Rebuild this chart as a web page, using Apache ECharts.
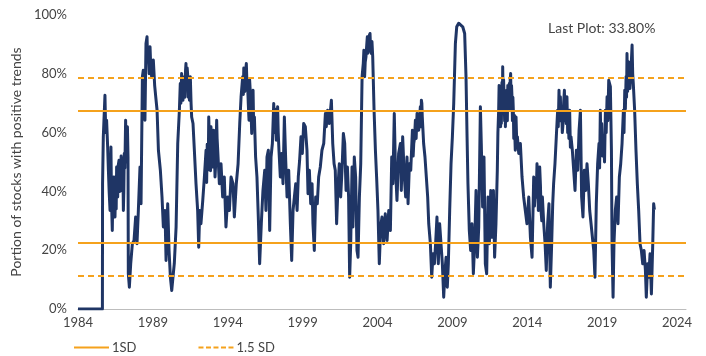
<!DOCTYPE html>
<html>
<head>
<meta charset="utf-8">
<script src="https://cdn.jsdelivr.net/npm/echarts@6/dist/echarts.min.js"></script>
<style>html,body{margin:0;padding:0;background:#fff;}#c{width:706px;height:356px;}</style>
</head>
<body>
<div id="c"></div>
<script>
// Portion of stocks with positive trends, [decimal year, %]
const p1984_1989 = [[1984.00,0],[1985.63,0],[1985.64,42.6],[1985.69,58.5],[1985.80,72.7],[1985.85,60],[1985.91,64.2],[1985.98,55.1],[1986.03,47.2],[1986.08,40],[1986.14,33.5],[1986.17,42],[1986.20,55.1],[1986.24,36],[1986.29,26.7],[1986.33,40],[1986.38,44.9],[1986.42,35],[1986.47,31.3],[1986.52,45],[1986.55,34],[1986.58,48.3],[1986.61,46],[1986.65,38.1],[1986.69,49],[1986.74,50.6],[1986.79,40],[1986.85,42.6],[1986.88,52],[1986.92,48.3],[1986.97,40],[1987.00,47],[1987.03,33.5],[1987.06,40],[1987.09,52.9],[1987.13,48],[1987.18,64.2],[1987.22,50],[1987.27,56.3],[1987.30,62],[1987.34,51.7],[1987.36,12.0],[1987.43,7.4],[1987.52,15.4],[1987.63,22.2],[1987.74,23.3],[1987.85,31.3],[1987.94,22.2],[1988.03,33.5],[1988.14,48.3],[1988.21,35.8],[1988.30,79.0],[1988.36,81.2],[1988.43,73.3],[1988.47,64.2],[1988.54,90.3],[1988.61,92.6],[1988.65,84],[1988.70,86.9],[1988.75,80],[1988.81,89.2],[1988.86,82],[1988.92,79.0],[1989.03,84.7],[1989.12,76.0]];
const p1989_1994 = [[1989.19,72.2],[1989.28,67.6],[1989.37,54.0],[1989.50,47.2],[1989.61,38.1],[1989.70,27.9],[1989.81,33.5],[1989.88,16.5],[1989.99,35.8],[1990.08,19.9],[1990.17,10.8],[1990.26,6.3],[1990.34,10.8],[1990.43,15.4],[1990.55,27.9],[1990.66,56.3],[1990.77,67.6],[1990.83,76.7],[1990.87,70],[1990.92,80.1],[1990.96,73],[1991.01,71.0],[1991.05,78],[1991.10,79.0],[1991.14,72],[1991.18,81],[1991.21,83.5],[1991.25,75],[1991.29,82],[1991.32,80.1],[1991.36,72],[1991.40,78],[1991.44,71.0],[1991.47,76],[1991.50,79.0],[1991.55,70],[1991.59,65.3],[1991.68,63.1],[1991.77,54.0],[1991.88,42.6],[1991.99,33.5],[1992.06,21.0],[1992.13,33.5],[1992.21,29.0],[1992.33,36.9],[1992.44,44.9],[1992.55,54.0],[1992.59,43],[1992.63,56],[1992.66,47.2],[1992.70,50],[1992.73,65.3],[1992.77,58],[1992.82,54.0],[1992.85,47],[1992.88,62.0],[1992.92,57],[1992.97,48.3],[1993.01,52],[1993.06,60.8],[1993.10,55],[1993.15,44.9],[1993.20,50],[1993.26,64.2],[1993.29,58],[1993.33,54.0],[1993.44,42.6],[1993.55,49.4],[1993.66,38.1],[1993.77,44.9],[1993.88,27.9],[1994.00,38.1],[1994.11,33.5],[1994.22,44.9]];
const p1994_1999 = [[1994.35,42.6],[1994.44,31.3],[1994.57,42.6],[1994.69,49.4],[1994.80,63.1],[1994.89,72.2],[1995.00,79.0],[1995.04,73],[1995.07,82],[1995.11,81.2],[1995.14,74],[1995.18,80],[1995.24,83.5],[1995.28,77],[1995.33,75.6],[1995.37,70],[1995.42,64.2],[1995.46,78],[1995.51,73.3],[1995.55,68],[1995.60,59.7],[1995.64,70],[1995.69,74.4],[1995.73,62],[1995.78,65.3],[1995.86,51.7],[1995.95,44.9],[1996.04,31.3],[1996.13,15.4],[1996.24,29.0],[1996.35,40.3],[1996.47,47.2],[1996.55,33.5],[1996.62,51.7],[1996.71,54.0],[1996.80,26.7],[1996.89,51.7],[1996.98,56.3],[1997.07,69.9],[1997.11,60],[1997.14,68],[1997.18,65.3],[1997.21,62],[1997.24,57.4],[1997.28,63],[1997.33,68.8],[1997.37,60],[1997.42,54.0],[1997.51,44.9],[1997.60,52.9],[1997.69,42.6],[1997.78,65.3],[1997.87,50.6],[1997.96,38.1],[1998.07,47.2],[1998.18,29.0],[1998.27,16.5],[1998.36,33.5],[1998.45,38.1],[1998.54,42.6],[1998.63,33.5],[1998.71,44.9],[1998.80,50.6],[1998.89,58.6],[1998.98,52.9],[1999.07,63.1],[1999.18,62.0],[1999.29,54.0]];
const p1999_2004 = [[1999.36,39.2],[1999.45,47.2],[1999.54,35.8],[1999.63,42.6],[1999.69,29.0],[1999.78,19.9],[1999.87,38.1],[1999.98,35.8],[2000.07,44.9],[2000.18,48.3],[2000.29,54.0],[2000.41,56.3],[2000.52,66.5],[2000.58,62.0],[2000.67,67.6],[2000.78,63.1],[2000.92,71.0],[2001.01,56.3],[2001.10,49.4],[2001.18,47.2],[2001.27,29.0],[2001.36,41.5],[2001.45,49.4],[2001.54,38.1],[2001.63,47.2],[2001.72,59.7],[2001.81,56.3],[2001.90,40.3],[2001.99,48.3],[2002.07,38.1],[2002.14,10.8],[2002.21,22.2],[2002.30,48.3],[2002.36,27.9],[2002.45,51.7],[2002.54,44.9],[2002.63,19.9],[2002.70,17.6],[2002.79,38.1],[2002.88,49.4],[2002.97,79.0],[2003.05,83.5],[2003.09,88],[2003.14,79.0],[2003.18,84],[2003.23,85.8],[2003.27,89],[2003.32,92.6],[2003.36,87],[2003.41,90.3],[2003.45,93],[2003.50,93.7],[2003.54,88],[2003.59,86.9],[2003.63,91],[2003.68,85.8],[2003.77,67.6],[2003.86,54.0],[2003.94,44.9],[2004.03,33.5],[2004.12,15.4],[2004.21,27.9],[2004.30,31.3]];
const p2004_2009 = [[2004.41,22.2],[2004.52,32.4],[2004.64,23.3],[2004.75,33.5],[2004.86,26.7],[2004.95,51.7],[2005.03,42.6],[2005.12,66.5],[2005.19,49.4],[2005.30,36.9],[2005.41,52.9],[2005.53,56.3],[2005.59,40.3],[2005.68,58.6],[2005.79,44.9],[2005.88,38.1],[2005.97,51.7],[2006.04,35.8],[2006.13,49.4],[2006.22,47.2],[2006.33,60.8],[2006.38,52],[2006.42,56.3],[2006.47,58],[2006.53,64.2],[2006.58,58],[2006.64,66.5],[2006.70,66],[2006.75,60.8],[2006.80,64],[2006.86,68.8],[2006.90,62],[2006.93,71.0],[2006.96,70],[2006.99,65.3],[2007.08,56.3],[2007.17,51.7],[2007.26,44.9],[2007.35,38.1],[2007.42,29.0],[2007.53,22.2],[2007.62,10.8],[2007.71,18.8],[2007.80,15.4],[2007.88,22.2],[2007.97,31.3],[2008.06,15.4],[2008.15,29.0],[2008.24,22.2],[2008.33,15.4],[2008.42,4.0],[2008.51,13.1],[2008.58,17.6],[2008.66,7.4],[2008.73,15.4],[2008.82,33.5],[2008.91,49.4],[2009.00,58.6],[2009.09,70.0]];
const p2009_2014 = [[2009.20,90.3],[2009.29,96.0],[2009.42,97.2],[2009.55,97.7],[2009.69,96.0],[2009.82,93.7],[2009.91,79.0],[2009.98,58.6],[2010.04,42.6],[2010.13,26.7],[2010.22,19.9],[2010.31,29.0],[2010.40,12.0],[2010.49,22.2],[2010.58,40.3],[2010.67,17.6],[2010.76,27.9],[2010.87,68.8],[2010.93,56.3],[2011.02,34.7],[2011.11,51.7],[2011.20,15.4],[2011.29,12.0],[2011.38,38.1],[2011.47,22.2],[2011.56,40.3],[2011.65,24.4],[2011.74,40.3],[2011.82,17.6],[2011.91,29.0],[2012.00,47.2],[2012.04,60],[2012.09,67.6],[2012.12,76],[2012.15,66],[2012.18,74.4],[2012.22,62],[2012.25,72],[2012.27,63.1],[2012.31,77],[2012.34,68],[2012.36,82.4],[2012.39,70],[2012.42,78],[2012.45,72.2],[2012.49,64],[2012.52,74],[2012.54,62.0],[2012.58,72],[2012.61,66],[2012.63,74.4],[2012.67,64],[2012.70,76],[2012.72,67.6],[2012.76,73],[2012.80,76.7],[2012.83,68],[2012.86,78],[2012.89,80.1],[2012.92,70],[2012.95,76],[2012.98,72.2],[2013.01,64],[2013.04,72],[2013.07,67.6],[2013.10,58],[2013.13,66],[2013.16,60.8],[2013.20,54],[2013.25,65.3],[2013.30,56],[2013.34,58.6],[2013.43,52.9],[2013.54,56.3],[2013.65,44.9],[2013.76,38.1],[2013.87,33.5],[2013.98,29.0],[2014.10,38.1],[2014.21,24.4],[2014.32,17.6]];
const p2014_2019 = [[2014.43,44.9],[2014.48,35],[2014.54,40.3],[2014.60,38],[2014.65,49.4],[2014.70,44],[2014.74,33.5],[2014.79,36],[2014.83,48.3],[2014.88,42],[2014.92,33.5],[2014.97,30],[2015.01,38.1],[2015.10,29.0],[2015.19,22.2],[2015.27,13.1],[2015.36,29.0],[2015.45,35.8],[2015.54,7.4],[2015.63,22.2],[2015.70,35.8],[2015.76,42.6],[2015.85,49.4],[2015.94,58.6],[2016.03,67.6],[2016.07,62],[2016.12,74.4],[2016.16,66],[2016.21,72.2],[2016.25,64],[2016.30,67.6],[2016.34,60],[2016.39,63.1],[2016.43,70],[2016.48,74.4],[2016.52,64],[2016.57,69.9],[2016.61,63],[2016.65,72.2],[2016.70,60],[2016.74,65.3],[2016.78,58],[2016.83,67.6],[2016.88,55],[2016.92,58.6],[2017.01,54.0],[2017.10,47.2],[2017.19,40.3],[2017.28,54.0],[2017.37,47.2],[2017.46,60.8],[2017.55,67.6],[2017.63,38.1],[2017.72,31.3],[2017.81,47.2],[2017.90,40.3],[2017.99,49.4],[2018.08,42.6],[2018.17,33.5],[2018.26,29.0],[2018.35,24.4],[2018.44,19.9],[2018.52,10.8],[2018.61,35.8],[2018.70,49.4],[2018.79,56.3],[2018.83,48],[2018.88,67.6],[2018.92,55],[2018.97,63.1]];
const p2019_2022 = [[2019.03,52],[2019.10,58.6],[2019.16,50],[2019.22,67.6],[2019.27,60],[2019.33,72.2],[2019.38,64],[2019.44,77.8],[2019.55,75.6],[2019.62,54.0],[2019.66,22.2],[2019.73,4.0],[2019.79,22.2],[2019.88,33.5],[2019.97,38.1],[2020.06,29.0],[2020.15,44.9],[2020.24,49.4],[2020.33,56.3],[2020.42,67.6],[2020.46,60],[2020.51,74.4],[2020.55,68],[2020.60,79.0],[2020.63,72],[2020.66,86.9],[2020.70,74],[2020.73,76.7],[2020.77,84],[2020.82,81.2],[2020.86,75],[2020.91,74.4],[2020.95,84],[2021.00,89.8],[2021.04,80],[2021.08,76.7],[2021.17,67.6],[2021.26,54.0],[2021.35,42.6],[2021.44,33.5],[2021.53,22.2],[2021.62,19.9],[2021.71,15.4],[2021.80,19.9],[2021.89,13.1],[2021.95,4.0],[2022.04,15.4],[2022.11,10.8],[2022.20,18.8],[2022.29,5.1],[2022.38,22.2],[2022.44,35.8],[2022.49,33.8]];

const oneSD = [67.4, 22.6];
const onePointFiveSD = [78.6, 11.4];
const lastPlotText = 'Last Plot: 33.80%';
const yTicks = [0, 20, 40, 60, 80, 100];
const xTickYears = [1984, 1989, 1994, 1999, 2004, 2009, 2014, 2019, 2024];

const trendData = [].concat(p1984_1989, p1989_1994, p1994_1999, p1999_2004, p2004_2009, p2009_2014, p2014_2019, p2019_2022);

const NAVY = '#1f3565';
const ORANGE = '#f5a21c';
const FONT = 'Lato';
const SOLID_ICON = 'path://M0,0H35V2H0Z';
const DASH_ICON = 'path://M0,0H5V2H0Z M7.5,0H12.5V2H7.5Z M15,0H20V2H15Z M22.5,0H27.5V2H22.5Z M30,0H35V2H30Z';

const chart = echarts.init(document.getElementById('c'), null, {renderer: 'canvas'});
chart.setOption({
  animation: false,
  backgroundColor: '#ffffff',
  textStyle: {fontFamily: FONT},
  title: {
    text: lastPlotText,
    left: 543, top: 16,
    textStyle: {fontSize: 14, fontWeight: 'normal', color: '#444', fontFamily: FONT}
  },
  grid: {left: 78, right: 20, top: 15, bottom: 47},
  legend: {
    data: [{name: '1SD', icon: SOLID_ICON}, {name: '1.5 SD', icon: DASH_ICON}],
    left: 69, top: 336,
    itemWidth: 35, itemHeight: 2, itemGap: 62,
    symbolKeepAspect: false,
    textStyle: {fontSize: 13, color: '#444', fontFamily: FONT, padding: [0, 0, 0, -2]}
  },
  xAxis: {
    type: 'value',
    min: xTickYears[0], max: 2024.6, interval: 5,
    axisLine: {show: true, lineStyle: {color: '#bdbdbd', width: 1}},
    axisTick: {show: false},
    splitLine: {show: false},
    axisLabel: {
      margin: 7, fontSize: 13, color: '#444', fontFamily: FONT,
      formatter: function (v) {
        const r = Math.round(v);
        return (Math.abs(v - r) < 1e-6 && xTickYears.indexOf(r) >= 0) ? String(r) : '';
      }
    }
  },
  yAxis: {
    type: 'value',
    min: yTicks[0], max: yTicks[yTicks.length - 1], interval: 20,
    name: 'Portion of stocks with positive trends',
    nameLocation: 'middle', nameGap: 54,
    nameTextStyle: {fontSize: 14, color: '#444', fontFamily: FONT},
    axisLine: {show: false},
    axisTick: {show: false},
    splitLine: {show: false},
    axisLabel: {margin: 11, fontSize: 13, color: '#444', fontFamily: FONT, formatter: '{value}%'}
  },
  series: [
    {
      name: 'Trend', type: 'line', data: trendData,
      showSymbol: false, symbol: 'none',
      lineStyle: {color: NAVY, width: 3, join: 'round'},
      itemStyle: {color: NAVY},
      z: 2
    },
    {
      name: '1SD', type: 'line', data: [], symbol: 'none', z: 3,
      lineStyle: {color: ORANGE, width: 2, type: 'solid'},
      itemStyle: {color: ORANGE},
      markLine: {
        silent: true, symbol: 'none', label: {show: false},
        lineStyle: {color: ORANGE, width: 2, type: 'solid'},
        data: oneSD.map(v => ({yAxis: v}))
      }
    },
    {
      name: '1.5 SD', type: 'line', data: [], symbol: 'none', z: 3,
      lineStyle: {color: ORANGE, width: 2, type: [6, 4]},
      itemStyle: {color: ORANGE},
      markLine: {
        silent: true, symbol: 'none', label: {show: false},
        lineStyle: {color: ORANGE, width: 2, type: [6, 4]},
        data: onePointFiveSD.map(v => ({yAxis: v}))
      }
    }
  ]
});
</script>
</body>
</html>
